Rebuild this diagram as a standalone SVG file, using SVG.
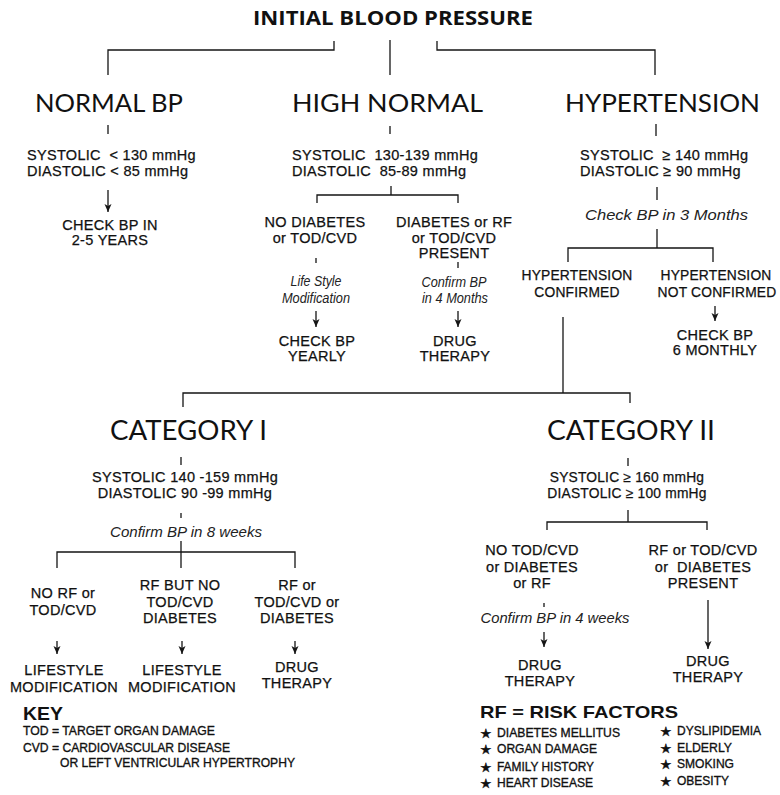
<svg xmlns="http://www.w3.org/2000/svg" width="780" height="795" viewBox="0 0 780 795">
<defs>
<style>
.ln{fill:none;stroke:#151515;stroke-width:1.3}
.ar{fill:none;stroke:#151515;stroke-width:1.3;marker-end:url(#ah)}
.h0{font-family:"Open Sans","Liberation Sans",sans-serif;font-weight:bold;font-size:20px;fill:#111}
.h1{font-family:Lato,"Liberation Sans",sans-serif;font-size:25px;fill:#111}
.h2{font-family:Lato,"Liberation Sans",sans-serif;font-size:27px;fill:#111}
.b{font-family:"Liberation Sans",Arial,sans-serif;font-size:14.5px;letter-spacing:0.3px;fill:#111;stroke:#111;stroke-width:0.25;text-anchor:middle}
.s{font-size:13.8px;letter-spacing:0.2px}
.st{text-anchor:start}
.i{font-family:"Liberation Sans",Arial,sans-serif;font-style:italic;font-size:14px;fill:#222;text-anchor:middle}
.ic{font-size:15px}
.k{font-family:"Liberation Sans Narrow","Liberation Sans",Arial,sans-serif;font-size:13px;fill:#111;stroke:#111;stroke-width:0.35}
.kb{font-family:"Liberation Sans",Arial,sans-serif;font-weight:bold;fill:#111}
.star{font-family:"DejaVu Sans",sans-serif;font-size:13px;fill:#111;stroke:#111;stroke-width:0.4}
</style>
<marker id="ah" markerUnits="userSpaceOnUse" markerWidth="9" markerHeight="9" refX="8" refY="4.5" orient="auto">
<path d="M0,1 L8,4.5 L0,8 L2,4.5 z" fill="#151515"/>
</marker>
</defs>

<g id="connectors">
<path class="ln" d="M334,41 V50 H108 V75"/>
<path class="ln" d="M390,40 V75"/>
<path class="ln" d="M437,41 V50 H655 V75"/>
<path class="ln" d="M108,125 V134"/>
<path class="ln" d="M390,126 V134"/>
<path class="ln" d="M656,124 V136"/>
<path class="ar" d="M108,190 V212"/>
<path class="ln" d="M391,186 V195"/>
<path class="ln" d="M317,203 V195 H458 V203"/>
<path class="ln" d="M316,258 V263"/>
<path class="ar" d="M316,311 V327"/>
<path class="ln" d="M458,262 V268"/>
<path class="ar" d="M458,311 V327"/>
<path class="ln" d="M657,187 V200"/>
<path class="ln" d="M657,229 V248"/>
<path class="ln" d="M568,262 V248 H713 V262"/>
<path class="ar" d="M715,306 V321"/>
<path class="ln" d="M563,317 V393"/>
<path class="ln" d="M183,407 V393 H630 V403"/>
<path class="ln" d="M181,457 V465"/>
<path class="ln" d="M181,513 V518"/>
<path class="ln" d="M181,541 V568"/>
<path class="ln" d="M57,568 V552 H295 V568"/>
<path class="ar" d="M57,641 V654"/>
<path class="ar" d="M182,641 V654"/>
<path class="ar" d="M295,641 V654"/>
<path class="ln" d="M628,458 V466"/>
<path class="ln" d="M628,510 V522"/>
<path class="ln" d="M547,530 V522 H707 V530"/>
<path class="ln" d="M544,603 V607"/>
<path class="ar" d="M544,632 V647"/>
<path class="ar" d="M708,600 V649"/>
</g>

<g id="initial">
<text class="h0" x="253" y="25" textLength="280" lengthAdjust="spacingAndGlyphs">INITIAL BLOOD PRESSURE</text>
</g>

<g id="normal-bp">
<text class="h1" x="35" y="112" textLength="148" lengthAdjust="spacingAndGlyphs">NORMAL BP</text>
<text class="b st" x="27" y="160" xml:space="preserve">SYSTOLIC  &lt; 130 mmHg</text>
<text class="b st" x="27" y="176">DIASTOLIC &lt; 85 mmHg</text>
</g>
<g id="check-2-5">
<text class="b" x="110" y="230">CHECK BP IN</text>
<text class="b" x="110" y="245">2-5 YEARS</text>
</g>

<g id="high-normal">
<text class="h1" x="292" y="112" textLength="191" lengthAdjust="spacingAndGlyphs">HIGH NORMAL</text>
<text class="b st" x="292" y="160" xml:space="preserve">SYSTOLIC  130-139 mmHg</text>
<text class="b st" x="292" y="176" xml:space="preserve">DIASTOLIC  85-89 mmHg</text>
</g>
<g id="no-diabetes">
<text class="b" x="315" y="227">NO DIABETES</text>
<text class="b" x="315" y="243">or TOD/CVD</text>
<text class="i ic" x="316" y="286" textLength="51" lengthAdjust="spacingAndGlyphs">Life Style</text>
<text class="i ic" x="316" y="303" textLength="68" lengthAdjust="spacingAndGlyphs">Modification</text>
</g>
<g id="check-yearly">
<text class="b" x="317" y="346">CHECK BP</text>
<text class="b" x="317" y="361">YEARLY</text>
</g>
<g id="diabetes-rf">
<text class="b" x="454" y="227">DIABETES or RF</text>
<text class="b" x="454" y="243">or TOD/CVD</text>
<text class="b" x="454" y="258">PRESENT</text>
<text class="i ic" x="454" y="287" textLength="65" lengthAdjust="spacingAndGlyphs">Confirm BP</text>
<text class="i ic" x="455" y="303" textLength="66" lengthAdjust="spacingAndGlyphs">in 4 Months</text>
</g>
<g id="drug-hn">
<text class="b" x="455" y="346">DRUG</text>
<text class="b" x="455" y="361">THERAPY</text>
</g>

<g id="hypertension">
<text class="h1" x="565" y="112" textLength="195" lengthAdjust="spacingAndGlyphs">HYPERTENSION</text>
<text class="b st" x="580" y="160" xml:space="preserve">SYSTOLIC  ≥ 140 mmHg</text>
<text class="b st" x="580" y="176">DIASTOLIC ≥ 90 mmHg</text>
<text class="i" x="585" y="220" style="text-anchor:start" textLength="163" lengthAdjust="spacingAndGlyphs">Check BP in 3 Months</text>
</g>
<g id="ht-confirmed">
<text class="b s" x="577" y="280">HYPERTENSION</text>
<text class="b s" x="577" y="297">CONFIRMED</text>
</g>
<g id="ht-not-confirmed">
<text class="b s" x="716" y="280">HYPERTENSION</text>
<text class="b s" x="717" y="297">NOT CONFIRMED</text>
</g>
<g id="check-6">
<text class="b" x="715" y="340">CHECK BP</text>
<text class="b" x="715" y="355">6 MONTHLY</text>
</g>

<g id="category-1">
<text class="h2" x="110" y="440" textLength="157" lengthAdjust="spacingAndGlyphs">CATEGORY I</text>
<text class="b" x="185" y="482">SYSTOLIC 140 -159 mmHg</text>
<text class="b" x="185" y="498">DIASTOLIC 90 -99 mmHg</text>
<text class="i" x="186" y="537" textLength="152" lengthAdjust="spacingAndGlyphs">Confirm BP in 8 weeks</text>
</g>
<g id="c1-no-rf">
<text class="b" x="63" y="598">NO RF or</text>
<text class="b" x="63" y="615">TOD/CVD</text>
</g>
<g id="c1-rf-but-no">
<text class="b" x="180" y="590">RF BUT NO</text>
<text class="b" x="180" y="607">TOD/CVD</text>
<text class="b" x="180" y="623">DIABETES</text>
</g>
<g id="c1-rf-or">
<text class="b" x="297" y="590">RF or</text>
<text class="b" x="297" y="607">TOD/CVD or</text>
<text class="b" x="297" y="623">DIABETES</text>
</g>
<g id="c1-life-1">
<text class="b" x="64" y="675">LIFESTYLE</text>
<text class="b" x="64" y="692">MODIFICATION</text>
</g>
<g id="c1-life-2">
<text class="b" x="182" y="675">LIFESTYLE</text>
<text class="b" x="182" y="692">MODIFICATION</text>
</g>
<g id="c1-drug">
<text class="b" x="297" y="672">DRUG</text>
<text class="b" x="297" y="688">THERAPY</text>
</g>

<g id="category-2">
<text class="h2" x="547" y="440" textLength="168" lengthAdjust="spacingAndGlyphs">CATEGORY II</text>
<text class="b s" x="627" y="482">SYSTOLIC ≥ 160 mmHg</text>
<text class="b s" x="627" y="498">DIASTOLIC ≥ 100 mmHg</text>
</g>
<g id="c2-no-tod">
<text class="b" x="532" y="555">NO TOD/CVD</text>
<text class="b" x="532" y="572">or DIABETES</text>
<text class="b" x="532" y="588">or RF</text>
<text class="i" x="555" y="623" textLength="149" lengthAdjust="spacingAndGlyphs">Confirm BP in 4 weeks</text>
</g>
<g id="c2-drug-1">
<text class="b" x="540" y="670">DRUG</text>
<text class="b" x="540" y="686">THERAPY</text>
</g>
<g id="c2-rf-or">
<text class="b" x="703" y="555">RF or TOD/CVD</text>
<text class="b" x="703" y="572" xml:space="preserve">or  DIABETES</text>
<text class="b" x="703" y="588">PRESENT</text>
</g>
<g id="c2-drug-2">
<text class="b" x="708" y="666">DRUG</text>
<text class="b" x="708" y="682">THERAPY</text>
</g>

<g id="key">
<text class="kb" x="23" y="720" font-size="18" textLength="40" lengthAdjust="spacingAndGlyphs">KEY</text>
<text class="k" x="23" y="735" textLength="192" lengthAdjust="spacingAndGlyphs">TOD = TARGET ORGAN DAMAGE</text>
<text class="k" x="23" y="752" textLength="207" lengthAdjust="spacingAndGlyphs">CVD = CARDIOVASCULAR DISEASE</text>
<text class="k" x="60" y="767" textLength="235" lengthAdjust="spacingAndGlyphs">OR LEFT VENTRICULAR HYPERTROPHY</text>
</g>

<g id="risk-factors">
<text class="kb" x="480" y="718" font-size="17" textLength="198" lengthAdjust="spacingAndGlyphs">RF = RISK FACTORS</text>
<text class="star" x="480" y="738">★</text>
<text class="star" x="480" y="754">★</text>
<text class="star" x="480" y="772">★</text>
<text class="star" x="480" y="788">★</text>
<text class="k" x="497" y="737" textLength="123" lengthAdjust="spacingAndGlyphs">DIABETES MELLITUS</text>
<text class="k" x="497" y="753" textLength="100" lengthAdjust="spacingAndGlyphs">ORGAN DAMAGE</text>
<text class="k" x="497" y="771" textLength="97" lengthAdjust="spacingAndGlyphs">FAMILY HISTORY</text>
<text class="k" x="497" y="787" textLength="96" lengthAdjust="spacingAndGlyphs">HEART DISEASE</text>
<text class="star" x="660" y="736">★</text>
<text class="star" x="660" y="753">★</text>
<text class="star" x="660" y="769">★</text>
<text class="star" x="660" y="786">★</text>
<text class="k" x="677" y="735" textLength="84" lengthAdjust="spacingAndGlyphs">DYSLIPIDEMIA</text>
<text class="k" x="677" y="752" textLength="55" lengthAdjust="spacingAndGlyphs">ELDERLY</text>
<text class="k" x="677" y="768" textLength="57" lengthAdjust="spacingAndGlyphs">SMOKING</text>
<text class="k" x="677" y="785" textLength="52" lengthAdjust="spacingAndGlyphs">OBESITY</text>
</g>
</svg>
